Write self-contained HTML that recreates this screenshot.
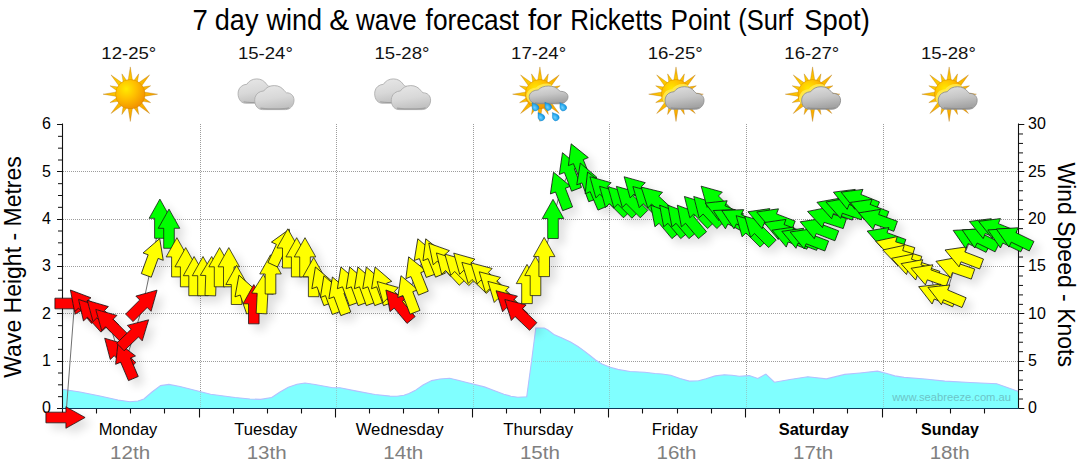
<!DOCTYPE html>
<html><head><meta charset="utf-8"><title>7 day wind &amp; wave forecast</title>
<style>
html,body{margin:0;padding:0;background:#fff;}
body{width:1080px;height:475px;overflow:hidden;font-family:"Liberation Sans",sans-serif;}
svg{display:block}
svg text{font-family:"Liberation Sans",sans-serif;}
.grid{stroke:#9c9c9c;stroke-width:1;stroke-dasharray:1 1;shape-rendering:crispEdges}
.ax{stroke:#111;}
.tick{font-size:16px;fill:#000}
.day{font-size:16px;fill:#000}
.date{font-size:18px;fill:#808080}
.temp{font-size:16.5px;fill:#111}
.title{font-size:29px;fill:#000}
.axt{font-size:23px;fill:#000}
.wm{font-size:11.2px;fill:#5a8a90;opacity:.5}
</style></head><body>
<svg width="1080" height="475" viewBox="0 0 1080 475">
<defs>
<path id="ar" d="M0,-19.6 L10.75,-0.4 L5.3,-0.4 L5.3,19.6 L-5.3,19.6 L-5.3,-0.4 L-10.75,-0.4 Z" stroke="#141414" stroke-width="0.75" stroke-linejoin="miter"/>
<filter id="sh" x="-5%" y="-20%" width="110%" height="140%"><feGaussianBlur in="SourceAlpha" stdDeviation="4.8"/><feOffset dx="6" dy="6" result="b"/><feComponentTransfer><feFuncA type="linear" slope="0.13"/></feComponentTransfer><feMerge><feMergeNode/><feMergeNode in="SourceGraphic"/></feMerge></filter>

<radialGradient id="sung" cx="0.36" cy="0.32" r="0.75"><stop offset="0" stop-color="#ffea00"/><stop offset="0.45" stop-color="#ffc000"/><stop offset="1" stop-color="#f08c00"/></radialGradient>
<radialGradient id="rayg" gradientUnits="objectBoundingBox" cx="0.4" cy="0.4" r="0.65"><stop offset="0" stop-color="#ffd800"/><stop offset="0.6" stop-color="#fbb400"/><stop offset="1" stop-color="#f39a00"/></radialGradient>
<linearGradient id="cldg" x1="0" y1="0" x2="0.25" y2="1"><stop offset="0" stop-color="#e8e8e8"/><stop offset="0.6" stop-color="#d8d8d8"/><stop offset="1" stop-color="#c2c2c2"/></linearGradient>
<linearGradient id="cldd" x1="0" y1="0" x2="0.25" y2="1"><stop offset="0" stop-color="#e0e0e0"/><stop offset="0.55" stop-color="#c6c6c6"/><stop offset="1" stop-color="#a4a4a4"/></linearGradient>
<radialGradient id="dropg" cx="0.4" cy="0.6" r="0.7"><stop offset="0" stop-color="#6fd0ff"/><stop offset="0.6" stop-color="#1ea4ea"/><stop offset="1" stop-color="#0a7fd0"/></radialGradient>
</defs>
<polygon points="63.0,408.0 63.0,389.2 62,389.2 80,392 100,396 118,400 130,401.7 138,401 143.9,398.9 152,392 160.6,385.6 168.9,384.4 180,386.5 210.6,394.2 235,397.5 250,399 260.6,399.4 271.7,397.5 280,392 288.3,387.2 297,384.3 305,383 315,384.5 332.8,387.8 340,387.8 356.7,391.1 375,394.5 390,396.1 397,396.3 403.9,395.3 409,393.5 415,390.6 423,385 431.7,380.6 440,379 449.7,378.3 458,380.3 467.8,382.8 484.4,386.9 494,390.5 503.9,394.2 511,396.2 517.8,397.2 526.7,396.7 531.7,360 535.8,328 544.2,328 548,330 553.9,334.4 562,338 570.6,342 578,346.5 584.4,351.1 590,355.5 595.6,360 602,364 609.4,367 617.8,369.4 630,371.5 644.8,372.2 655,373.5 662,374 670.7,375.2 680,378.5 689.3,381.1 698.5,380.7 706,378.8 715.2,375.9 724.4,374.8 732,375.2 739.3,376.3 749.3,375.6 757.8,378.5 765.9,374.1 774.4,382.2 790,379.5 807.8,376.7 826.3,378.9 844.8,374.4 860,373 877.4,371.1 886,373.3 894.8,375.9 904.1,377.4 925,379 944.8,381.1 970,382.5 996.7,383.7 1018,391.3 1018.0,408.0" fill="#80ffff"/>
<line x1="63.0" y1="361.5" x2="1018.0" y2="361.5" class="grid"/>
<line x1="63.0" y1="313.5" x2="1018.0" y2="313.5" class="grid"/>
<line x1="63.0" y1="266.5" x2="1018.0" y2="266.5" class="grid"/>
<line x1="63.0" y1="219.5" x2="1018.0" y2="219.5" class="grid"/>
<line x1="63.0" y1="171.5" x2="1018.0" y2="171.5" class="grid"/>
<line x1="200.5" y1="124.0" x2="200.5" y2="408.0" class="grid"/>
<line x1="336.5" y1="124.0" x2="336.5" y2="408.0" class="grid"/>
<line x1="473.5" y1="124.0" x2="473.5" y2="408.0" class="grid"/>
<line x1="609.5" y1="124.0" x2="609.5" y2="408.0" class="grid"/>
<line x1="746.5" y1="124.0" x2="746.5" y2="408.0" class="grid"/>
<line x1="883.5" y1="124.0" x2="883.5" y2="408.0" class="grid"/>
<polygon points="63.0,408.0 63.0,389.2 62,389.2 80,392 100,396 118,400 130,401.7 138,401 143.9,398.9 152,392 160.6,385.6 168.9,384.4 180,386.5 210.6,394.2 235,397.5 250,399 260.6,399.4 271.7,397.5 280,392 288.3,387.2 297,384.3 305,383 315,384.5 332.8,387.8 340,387.8 356.7,391.1 375,394.5 390,396.1 397,396.3 403.9,395.3 409,393.5 415,390.6 423,385 431.7,380.6 440,379 449.7,378.3 458,380.3 467.8,382.8 484.4,386.9 494,390.5 503.9,394.2 511,396.2 517.8,397.2 526.7,396.7 531.7,360 535.8,328 544.2,328 548,330 553.9,334.4 562,338 570.6,342 578,346.5 584.4,351.1 590,355.5 595.6,360 602,364 609.4,367 617.8,369.4 630,371.5 644.8,372.2 655,373.5 662,374 670.7,375.2 680,378.5 689.3,381.1 698.5,380.7 706,378.8 715.2,375.9 724.4,374.8 732,375.2 739.3,376.3 749.3,375.6 757.8,378.5 765.9,374.1 774.4,382.2 790,379.5 807.8,376.7 826.3,378.9 844.8,374.4 860,373 877.4,371.1 886,373.3 894.8,375.9 904.1,377.4 925,379 944.8,381.1 970,382.5 996.7,383.7 1018,391.3 1018.0,408.0" fill="#80ffff" opacity="0.5"/>
<polyline points="62,389.2 80,392 100,396 118,400 130,401.7 138,401 143.9,398.9 152,392 160.6,385.6 168.9,384.4 180,386.5 210.6,394.2 235,397.5 250,399 260.6,399.4 271.7,397.5 280,392 288.3,387.2 297,384.3 305,383 315,384.5 332.8,387.8 340,387.8 356.7,391.1 375,394.5 390,396.1 397,396.3 403.9,395.3 409,393.5 415,390.6 423,385 431.7,380.6 440,379 449.7,378.3 458,380.3 467.8,382.8 484.4,386.9 494,390.5 503.9,394.2 511,396.2 517.8,397.2 526.7,396.7 531.7,360 535.8,328 544.2,328 548,330 553.9,334.4 562,338 570.6,342 578,346.5 584.4,351.1 590,355.5 595.6,360 602,364 609.4,367 617.8,369.4 630,371.5 644.8,372.2 655,373.5 662,374 670.7,375.2 680,378.5 689.3,381.1 698.5,380.7 706,378.8 715.2,375.9 724.4,374.8 732,375.2 739.3,376.3 749.3,375.6 757.8,378.5 765.9,374.1 774.4,382.2 790,379.5 807.8,376.7 826.3,378.9 844.8,374.4 860,373 877.4,371.1 886,373.3 894.8,375.9 904.1,377.4 925,379 944.8,381.1 970,382.5 996.7,383.7 1018,391.3" fill="none" stroke="#b4c0ff" stroke-width="1.1"/>
<line x1="62.5" y1="123.5" x2="62.5" y2="413.0" class="ax" stroke-width="1.1"/>
<line x1="1018.5" y1="123.5" x2="1018.5" y2="409.0" class="ax" stroke-width="1.1"/>
<line x1="62.0" y1="408.5" x2="1019.0" y2="408.5" stroke="#0e3a5c" stroke-width="1.1"/>
<line x1="57.0" y1="408.50" x2="62.0" y2="408.50" class="ax" stroke-width="1"/>
<line x1="58.0" y1="396.67" x2="62.0" y2="396.67" class="ax" stroke-width="1"/>
<line x1="58.0" y1="384.83" x2="62.0" y2="384.83" class="ax" stroke-width="1"/>
<line x1="58.0" y1="373.00" x2="62.0" y2="373.00" class="ax" stroke-width="1"/>
<line x1="57.0" y1="361.50" x2="62.0" y2="361.50" class="ax" stroke-width="1"/>
<line x1="58.0" y1="349.33" x2="62.0" y2="349.33" class="ax" stroke-width="1"/>
<line x1="58.0" y1="337.50" x2="62.0" y2="337.50" class="ax" stroke-width="1"/>
<line x1="58.0" y1="325.67" x2="62.0" y2="325.67" class="ax" stroke-width="1"/>
<line x1="57.0" y1="313.50" x2="62.0" y2="313.50" class="ax" stroke-width="1"/>
<line x1="58.0" y1="302.00" x2="62.0" y2="302.00" class="ax" stroke-width="1"/>
<line x1="58.0" y1="290.17" x2="62.0" y2="290.17" class="ax" stroke-width="1"/>
<line x1="58.0" y1="278.33" x2="62.0" y2="278.33" class="ax" stroke-width="1"/>
<line x1="57.0" y1="266.50" x2="62.0" y2="266.50" class="ax" stroke-width="1"/>
<line x1="58.0" y1="254.67" x2="62.0" y2="254.67" class="ax" stroke-width="1"/>
<line x1="58.0" y1="242.83" x2="62.0" y2="242.83" class="ax" stroke-width="1"/>
<line x1="58.0" y1="231.00" x2="62.0" y2="231.00" class="ax" stroke-width="1"/>
<line x1="57.0" y1="219.50" x2="62.0" y2="219.50" class="ax" stroke-width="1"/>
<line x1="58.0" y1="207.33" x2="62.0" y2="207.33" class="ax" stroke-width="1"/>
<line x1="58.0" y1="195.50" x2="62.0" y2="195.50" class="ax" stroke-width="1"/>
<line x1="58.0" y1="183.67" x2="62.0" y2="183.67" class="ax" stroke-width="1"/>
<line x1="57.0" y1="171.50" x2="62.0" y2="171.50" class="ax" stroke-width="1"/>
<line x1="58.0" y1="160.00" x2="62.0" y2="160.00" class="ax" stroke-width="1"/>
<line x1="58.0" y1="148.17" x2="62.0" y2="148.17" class="ax" stroke-width="1"/>
<line x1="58.0" y1="136.33" x2="62.0" y2="136.33" class="ax" stroke-width="1"/>
<line x1="57.0" y1="124.50" x2="62.0" y2="124.50" class="ax" stroke-width="1"/>
<line x1="1019.0" y1="408.50" x2="1024.3" y2="408.50" class="ax" stroke-width="1"/>
<line x1="1019.0" y1="399.03" x2="1023.0" y2="399.03" class="ax" stroke-width="1"/>
<line x1="1019.0" y1="389.57" x2="1023.0" y2="389.57" class="ax" stroke-width="1"/>
<line x1="1019.0" y1="380.10" x2="1023.0" y2="380.10" class="ax" stroke-width="1"/>
<line x1="1019.0" y1="370.63" x2="1023.0" y2="370.63" class="ax" stroke-width="1"/>
<line x1="1019.0" y1="361.50" x2="1024.3" y2="361.50" class="ax" stroke-width="1"/>
<line x1="1019.0" y1="351.70" x2="1023.0" y2="351.70" class="ax" stroke-width="1"/>
<line x1="1019.0" y1="342.23" x2="1023.0" y2="342.23" class="ax" stroke-width="1"/>
<line x1="1019.0" y1="332.77" x2="1023.0" y2="332.77" class="ax" stroke-width="1"/>
<line x1="1019.0" y1="323.30" x2="1023.0" y2="323.30" class="ax" stroke-width="1"/>
<line x1="1019.0" y1="313.50" x2="1024.3" y2="313.50" class="ax" stroke-width="1"/>
<line x1="1019.0" y1="304.37" x2="1023.0" y2="304.37" class="ax" stroke-width="1"/>
<line x1="1019.0" y1="294.90" x2="1023.0" y2="294.90" class="ax" stroke-width="1"/>
<line x1="1019.0" y1="285.43" x2="1023.0" y2="285.43" class="ax" stroke-width="1"/>
<line x1="1019.0" y1="275.97" x2="1023.0" y2="275.97" class="ax" stroke-width="1"/>
<line x1="1019.0" y1="266.50" x2="1024.3" y2="266.50" class="ax" stroke-width="1"/>
<line x1="1019.0" y1="257.03" x2="1023.0" y2="257.03" class="ax" stroke-width="1"/>
<line x1="1019.0" y1="247.57" x2="1023.0" y2="247.57" class="ax" stroke-width="1"/>
<line x1="1019.0" y1="238.10" x2="1023.0" y2="238.10" class="ax" stroke-width="1"/>
<line x1="1019.0" y1="228.63" x2="1023.0" y2="228.63" class="ax" stroke-width="1"/>
<line x1="1019.0" y1="219.50" x2="1024.3" y2="219.50" class="ax" stroke-width="1"/>
<line x1="1019.0" y1="209.70" x2="1023.0" y2="209.70" class="ax" stroke-width="1"/>
<line x1="1019.0" y1="200.23" x2="1023.0" y2="200.23" class="ax" stroke-width="1"/>
<line x1="1019.0" y1="190.77" x2="1023.0" y2="190.77" class="ax" stroke-width="1"/>
<line x1="1019.0" y1="181.30" x2="1023.0" y2="181.30" class="ax" stroke-width="1"/>
<line x1="1019.0" y1="171.50" x2="1024.3" y2="171.50" class="ax" stroke-width="1"/>
<line x1="1019.0" y1="162.37" x2="1023.0" y2="162.37" class="ax" stroke-width="1"/>
<line x1="1019.0" y1="152.90" x2="1023.0" y2="152.90" class="ax" stroke-width="1"/>
<line x1="1019.0" y1="143.43" x2="1023.0" y2="143.43" class="ax" stroke-width="1"/>
<line x1="1019.0" y1="133.97" x2="1023.0" y2="133.97" class="ax" stroke-width="1"/>
<line x1="1019.0" y1="124.50" x2="1024.3" y2="124.50" class="ax" stroke-width="1"/>
<text x="51.0" y="413.2" text-anchor="end" class="tick">0</text>
<text x="1028.0" y="413.4" text-anchor="start" class="tick">0</text>
<text x="51.0" y="365.9" text-anchor="end" class="tick">1</text>
<text x="1028.0" y="366.1" text-anchor="start" class="tick">5</text>
<text x="51.0" y="318.5" text-anchor="end" class="tick">2</text>
<text x="1028.0" y="318.7" text-anchor="start" class="tick">10</text>
<text x="51.0" y="271.2" text-anchor="end" class="tick">3</text>
<text x="1028.0" y="271.4" text-anchor="start" class="tick">15</text>
<text x="51.0" y="223.9" text-anchor="end" class="tick">4</text>
<text x="1028.0" y="224.1" text-anchor="start" class="tick">20</text>
<text x="51.0" y="176.5" text-anchor="end" class="tick">5</text>
<text x="1028.0" y="176.7" text-anchor="start" class="tick">25</text>
<text x="51.0" y="129.2" text-anchor="end" class="tick">6</text>
<text x="1028.0" y="129.4" text-anchor="start" class="tick">30</text>
<line x1="96.5" y1="409.0" x2="96.5" y2="413.5" class="ax" stroke-width="1.1"/>
<line x1="130.5" y1="409.0" x2="130.5" y2="413.5" class="ax" stroke-width="1.1"/>
<line x1="164.5" y1="409.0" x2="164.5" y2="413.5" class="ax" stroke-width="1.1"/>
<line x1="199.5" y1="409.0" x2="199.5" y2="417.5" class="ax" stroke-width="1.1"/>
<line x1="233.5" y1="409.0" x2="233.5" y2="413.5" class="ax" stroke-width="1.1"/>
<line x1="267.5" y1="409.0" x2="267.5" y2="413.5" class="ax" stroke-width="1.1"/>
<line x1="301.5" y1="409.0" x2="301.5" y2="413.5" class="ax" stroke-width="1.1"/>
<line x1="335.5" y1="409.0" x2="335.5" y2="417.5" class="ax" stroke-width="1.1"/>
<line x1="369.5" y1="409.0" x2="369.5" y2="413.5" class="ax" stroke-width="1.1"/>
<line x1="403.5" y1="409.0" x2="403.5" y2="413.5" class="ax" stroke-width="1.1"/>
<line x1="438.5" y1="409.0" x2="438.5" y2="413.5" class="ax" stroke-width="1.1"/>
<line x1="472.5" y1="409.0" x2="472.5" y2="417.5" class="ax" stroke-width="1.1"/>
<line x1="506.5" y1="409.0" x2="506.5" y2="413.5" class="ax" stroke-width="1.1"/>
<line x1="540.5" y1="409.0" x2="540.5" y2="413.5" class="ax" stroke-width="1.1"/>
<line x1="574.5" y1="409.0" x2="574.5" y2="413.5" class="ax" stroke-width="1.1"/>
<line x1="608.5" y1="409.0" x2="608.5" y2="417.5" class="ax" stroke-width="1.1"/>
<line x1="642.5" y1="409.0" x2="642.5" y2="413.5" class="ax" stroke-width="1.1"/>
<line x1="677.5" y1="409.0" x2="677.5" y2="413.5" class="ax" stroke-width="1.1"/>
<line x1="711.5" y1="409.0" x2="711.5" y2="413.5" class="ax" stroke-width="1.1"/>
<line x1="745.5" y1="409.0" x2="745.5" y2="417.5" class="ax" stroke-width="1.1"/>
<line x1="779.5" y1="409.0" x2="779.5" y2="413.5" class="ax" stroke-width="1.1"/>
<line x1="813.5" y1="409.0" x2="813.5" y2="413.5" class="ax" stroke-width="1.1"/>
<line x1="847.5" y1="409.0" x2="847.5" y2="413.5" class="ax" stroke-width="1.1"/>
<line x1="882.5" y1="409.0" x2="882.5" y2="417.5" class="ax" stroke-width="1.1"/>
<line x1="916.5" y1="409.0" x2="916.5" y2="413.5" class="ax" stroke-width="1.1"/>
<line x1="950.5" y1="409.0" x2="950.5" y2="413.5" class="ax" stroke-width="1.1"/>
<line x1="984.5" y1="409.0" x2="984.5" y2="413.5" class="ax" stroke-width="1.1"/>
<text x="128.0" y="435" text-anchor="middle" class="day" textLength="58.6" lengthAdjust="spacingAndGlyphs">Monday</text>
<text x="130.1" y="458.6" text-anchor="middle" class="date" textLength="40" lengthAdjust="spacingAndGlyphs">12th</text>
<text x="128.8" y="59" text-anchor="middle" class="temp" textLength="55" lengthAdjust="spacingAndGlyphs">12-25°</text>
<text x="265.8" y="435" text-anchor="middle" class="day" textLength="62.9" lengthAdjust="spacingAndGlyphs">Tuesday</text>
<text x="266.7" y="458.6" text-anchor="middle" class="date" textLength="40" lengthAdjust="spacingAndGlyphs">13th</text>
<text x="265.4" y="59" text-anchor="middle" class="temp" textLength="55" lengthAdjust="spacingAndGlyphs">15-24°</text>
<text x="399.6" y="435" text-anchor="middle" class="day" textLength="87.9" lengthAdjust="spacingAndGlyphs">Wednesday</text>
<text x="403.3" y="458.6" text-anchor="middle" class="date" textLength="40" lengthAdjust="spacingAndGlyphs">14th</text>
<text x="402.0" y="59" text-anchor="middle" class="temp" textLength="55" lengthAdjust="spacingAndGlyphs">15-28°</text>
<text x="538.3" y="435" text-anchor="middle" class="day" textLength="69.9" lengthAdjust="spacingAndGlyphs">Thursday</text>
<text x="539.9" y="458.6" text-anchor="middle" class="date" textLength="40" lengthAdjust="spacingAndGlyphs">15th</text>
<text x="538.6" y="59" text-anchor="middle" class="temp" textLength="55" lengthAdjust="spacingAndGlyphs">17-24°</text>
<text x="674.8" y="435" text-anchor="middle" class="day" textLength="46.2" lengthAdjust="spacingAndGlyphs">Friday</text>
<text x="676.5" y="458.6" text-anchor="middle" class="date" textLength="40" lengthAdjust="spacingAndGlyphs">16th</text>
<text x="675.2" y="59" text-anchor="middle" class="temp" textLength="55" lengthAdjust="spacingAndGlyphs">16-25°</text>
<text x="813.8" y="435" text-anchor="middle" class="day" font-weight="bold" textLength="70.2" lengthAdjust="spacingAndGlyphs">Saturday</text>
<text x="813.1" y="458.6" text-anchor="middle" class="date" textLength="40" lengthAdjust="spacingAndGlyphs">17th</text>
<text x="811.8" y="59" text-anchor="middle" class="temp" textLength="55" lengthAdjust="spacingAndGlyphs">16-27°</text>
<text x="950.0" y="435" text-anchor="middle" class="day" font-weight="bold" textLength="57.8" lengthAdjust="spacingAndGlyphs">Sunday</text>
<text x="949.7" y="458.6" text-anchor="middle" class="date" textLength="40" lengthAdjust="spacingAndGlyphs">18th</text>
<text x="948.4" y="59" text-anchor="middle" class="temp" textLength="55" lengthAdjust="spacingAndGlyphs">15-28°</text>
<g class="title"><text x="192.4" y="29.7" textLength="15.3" lengthAdjust="spacingAndGlyphs">7</text><text x="214.8" y="29.7" textLength="43.7" lengthAdjust="spacingAndGlyphs">day</text><text x="266.4" y="29.7" textLength="55.7" lengthAdjust="spacingAndGlyphs">wind</text><text x="329.3" y="29.7" textLength="19.9" lengthAdjust="spacingAndGlyphs">&amp;</text><text x="356.1" y="29.7" textLength="60.7" lengthAdjust="spacingAndGlyphs">wave</text><text x="425.6" y="29.7" textLength="93.6" lengthAdjust="spacingAndGlyphs">forecast</text><text x="527.9" y="29.7" textLength="34.1" lengthAdjust="spacingAndGlyphs">for</text><text x="570.3" y="29.7" textLength="92.3" lengthAdjust="spacingAndGlyphs">Ricketts</text><text x="670.6" y="29.7" textLength="59.6" lengthAdjust="spacingAndGlyphs">Point</text><text x="738.3" y="29.7" textLength="55.1" lengthAdjust="spacingAndGlyphs">(Surf</text><text x="804.3" y="29.7" textLength="65.5" lengthAdjust="spacingAndGlyphs">Spot)</text></g>
<text transform="translate(20.5,267) rotate(-90)" text-anchor="middle" class="axt">Wave Height - Metres</text>
<text transform="translate(1057.5,264.7) rotate(90)" text-anchor="middle" class="axt">Wind Speed - Knots</text>
<text x="1011" y="401" text-anchor="end" class="wm">www.seabreeze.com.au</text>
<g><path d="M128.11,80.37 L130.30,66.90 L132.49,80.37 Z M133.81,80.65 L138.72,73.87 L137.41,82.14 Z M138.53,82.87 L149.60,74.90 L141.63,85.97 Z M142.36,87.09 L150.63,85.78 L143.85,90.69 Z M144.13,92.01 L157.60,94.20 L144.13,96.39 Z M143.85,97.71 L150.63,102.62 L142.36,101.31 Z M141.63,102.43 L149.60,113.50 L138.53,105.53 Z M137.41,106.26 L138.72,114.53 L133.81,107.75 Z M132.49,108.03 L130.30,121.50 L128.11,108.03 Z M126.79,107.75 L121.88,114.53 L123.19,106.26 Z M122.07,105.53 L111.00,113.50 L118.97,102.43 Z M118.24,101.31 L109.97,102.62 L116.75,97.71 Z M116.47,96.39 L103.00,94.20 L116.47,92.01 Z M116.75,90.69 L109.97,85.78 L118.24,87.09 Z M118.97,85.97 L111.00,74.90 L122.07,82.87 Z M123.19,82.14 L121.88,73.87 L126.79,80.65 Z" fill="url(#rayg)" stroke="#a86a08" stroke-width="0.6" stroke-opacity="0.5"/><circle cx="130.3" cy="94.2" r="14.7" fill="url(#sung)" stroke="#c87800" stroke-width="0.6" stroke-opacity="0.6"/></g>
<g transform="translate(237.90,78.90) scale(0.9450,1.0125)"><path d="M8,24 L31.5,24 C36,24 40,20 40,14.5 C40,10 36.5,7 32.3,7.2 C31.4,6.4 30.8,5.8 30.3,5.2 C28,2 24.5,0 20,0 C15.5,0 11.5,2 9.5,5.3 C5,5.6 1.5,8 0.5,12 C-0.8,17.5 2,24 8,24 Z" fill="url(#cldg)" stroke="#adadad" stroke-width="0.9"/><path d="M6,22.6 C10,23.6 30,23.6 35,22.2" fill="none" stroke="#808080" stroke-opacity="0.5" stroke-width="1.2"/></g>
<g transform="translate(254.50,85.60) scale(0.9875,1.0000)"><path d="M8,24 L31.5,24 C36,24 40,20 40,14.5 C40,10 36.5,7 32.3,7.2 C31.4,6.4 30.8,5.8 30.3,5.2 C28,2 24.5,0 20,0 C15.5,0 11.5,2 9.5,5.3 C5,5.6 1.5,8 0.5,12 C-0.8,17.5 2,24 8,24 Z" fill="url(#cldg)" stroke="#adadad" stroke-width="0.9"/><path d="M6,22.6 C10,23.6 30,23.6 35,22.2" fill="none" stroke="#808080" stroke-opacity="0.5" stroke-width="1.2"/></g>
<g transform="translate(374.50,78.90) scale(0.9450,1.0125)"><path d="M8,24 L31.5,24 C36,24 40,20 40,14.5 C40,10 36.5,7 32.3,7.2 C31.4,6.4 30.8,5.8 30.3,5.2 C28,2 24.5,0 20,0 C15.5,0 11.5,2 9.5,5.3 C5,5.6 1.5,8 0.5,12 C-0.8,17.5 2,24 8,24 Z" fill="url(#cldg)" stroke="#adadad" stroke-width="0.9"/><path d="M6,22.6 C10,23.6 30,23.6 35,22.2" fill="none" stroke="#808080" stroke-opacity="0.5" stroke-width="1.2"/></g>
<g transform="translate(391.10,85.60) scale(0.9875,1.0000)"><path d="M8,24 L31.5,24 C36,24 40,20 40,14.5 C40,10 36.5,7 32.3,7.2 C31.4,6.4 30.8,5.8 30.3,5.2 C28,2 24.5,0 20,0 C15.5,0 11.5,2 9.5,5.3 C5,5.6 1.5,8 0.5,12 C-0.8,17.5 2,24 8,24 Z" fill="url(#cldg)" stroke="#adadad" stroke-width="0.9"/><path d="M6,22.6 C10,23.6 30,23.6 35,22.2" fill="none" stroke="#808080" stroke-opacity="0.5" stroke-width="1.2"/></g>
<g><path d="M537.71,80.37 L539.90,66.90 L542.09,80.37 Z M543.41,80.65 L548.32,73.87 L547.01,82.14 Z M548.13,82.87 L559.20,74.90 L551.23,85.97 Z M551.96,87.09 L560.23,85.78 L553.45,90.69 Z M553.73,92.01 L567.20,94.20 L553.73,96.39 Z M553.45,97.71 L560.23,102.62 L551.96,101.31 Z M551.23,102.43 L559.20,113.50 L548.13,105.53 Z M547.01,106.26 L548.32,114.53 L543.41,107.75 Z M542.09,108.03 L539.90,121.50 L537.71,108.03 Z M536.39,107.75 L531.48,114.53 L532.79,106.26 Z M531.67,105.53 L520.60,113.50 L528.57,102.43 Z M527.84,101.31 L519.57,102.62 L526.35,97.71 Z M526.07,96.39 L512.60,94.20 L526.07,92.01 Z M526.35,90.69 L519.57,85.78 L527.84,87.09 Z M528.57,85.97 L520.60,74.90 L531.67,82.87 Z M532.79,82.14 L531.48,73.87 L536.39,80.65 Z" fill="url(#rayg)" stroke="#a86a08" stroke-width="0.6" stroke-opacity="0.5"/><circle cx="539.9" cy="94.2" r="14.7" fill="url(#sung)" stroke="#c87800" stroke-width="0.6" stroke-opacity="0.6"/></g>
<clipPath id="sc1"><circle cx="539.9" cy="94.2" r="14.7"/></clipPath><g clip-path="url(#sc1)"><g transform="translate(527.80,84.80) scale(0.9750,0.7417)"><path d="M8,24 L31.5,24 C36,24 40,20 40,14.5 C40,10 36.5,7 32.3,7.2 C31.4,6.4 30.8,5.8 30.3,5.2 C28,2 24.5,0 20,0 C15.5,0 11.5,2 9.5,5.3 C5,5.6 1.5,8 0.5,12 C-0.8,17.5 2,24 8,24 Z" fill="#ffe94a" stroke="#ffe94a" stroke-width="3.2" stroke-opacity="0.9"/></g></g>
<g transform="translate(529.00,86.00) scale(0.9750,0.7417)"><path d="M8,24 L31.5,24 C36,24 40,20 40,14.5 C40,10 36.5,7 32.3,7.2 C31.4,6.4 30.8,5.8 30.3,5.2 C28,2 24.5,0 20,0 C15.5,0 11.5,2 9.5,5.3 C5,5.6 1.5,8 0.5,12 C-0.8,17.5 2,24 8,24 Z" fill="url(#cldd)" stroke="#8c8c8c" stroke-width="0.9"/><path d="M6,22.6 C10,23.6 30,23.6 35,22.2" fill="none" stroke="#808080" stroke-opacity="0.5" stroke-width="1.2"/></g>
<g transform="translate(534.7,106.4) rotate(-35)"><path d="M0,-4.6 C1.0,-2.4 3.3,-0.8 3.3,1.4 A3.3,3.3 0 1 1 -3.3,1.4 C-3.3,-0.8 -1.0,-2.4 0,-4.6 Z" fill="url(#dropg)" stroke="#1480c8" stroke-width="0.4"/></g>
<g transform="translate(547.5,106.0) rotate(-35)"><path d="M0,-4.6 C1.0,-2.4 3.3,-0.8 3.3,1.4 A3.3,3.3 0 1 1 -3.3,1.4 C-3.3,-0.8 -1.0,-2.4 0,-4.6 Z" fill="url(#dropg)" stroke="#1480c8" stroke-width="0.4"/></g>
<g transform="translate(562.5,106.4) rotate(-35)"><path d="M0,-4.6 C1.0,-2.4 3.3,-0.8 3.3,1.4 A3.3,3.3 0 1 1 -3.3,1.4 C-3.3,-0.8 -1.0,-2.4 0,-4.6 Z" fill="url(#dropg)" stroke="#1480c8" stroke-width="0.4"/></g>
<g transform="translate(540.6,116.3) rotate(-35)"><path d="M0,-4.6 C1.0,-2.4 3.3,-0.8 3.3,1.4 A3.3,3.3 0 1 1 -3.3,1.4 C-3.3,-0.8 -1.0,-2.4 0,-4.6 Z" fill="url(#dropg)" stroke="#1480c8" stroke-width="0.4"/></g>
<g transform="translate(555.0,116.3) rotate(-35)"><path d="M0,-4.6 C1.0,-2.4 3.3,-0.8 3.3,1.4 A3.3,3.3 0 1 1 -3.3,1.4 C-3.3,-0.8 -1.0,-2.4 0,-4.6 Z" fill="url(#dropg)" stroke="#1480c8" stroke-width="0.4"/></g>
<g><path d="M673.81,80.37 L676.00,66.90 L678.19,80.37 Z M679.51,80.65 L684.42,73.87 L683.11,82.14 Z M684.23,82.87 L695.30,74.90 L687.33,85.97 Z M688.06,87.09 L696.33,85.78 L689.55,90.69 Z M689.83,92.01 L703.30,94.20 L689.83,96.39 Z M689.55,97.71 L696.33,102.62 L688.06,101.31 Z M687.33,102.43 L695.30,113.50 L684.23,105.53 Z M683.11,106.26 L684.42,114.53 L679.51,107.75 Z M678.19,108.03 L676.00,121.50 L673.81,108.03 Z M672.49,107.75 L667.58,114.53 L668.89,106.26 Z M667.77,105.53 L656.70,113.50 L664.67,102.43 Z M663.94,101.31 L655.67,102.62 L662.45,97.71 Z M662.17,96.39 L648.70,94.20 L662.17,92.01 Z M662.45,90.69 L655.67,85.78 L663.94,87.09 Z M664.67,85.97 L656.70,74.90 L667.77,82.87 Z M668.89,82.14 L667.58,73.87 L672.49,80.65 Z" fill="url(#rayg)" stroke="#a86a08" stroke-width="0.6" stroke-opacity="0.5"/><circle cx="676.0" cy="94.2" r="14.7" fill="url(#sung)" stroke="#c87800" stroke-width="0.6" stroke-opacity="0.6"/></g>
<clipPath id="sc2"><circle cx="676.0" cy="94.2" r="14.7"/></clipPath><g clip-path="url(#sc2)"><g transform="translate(663.70,85.50) scale(0.9775,0.9375)"><path d="M8,24 L31.5,24 C36,24 40,20 40,14.5 C40,10 36.5,7 32.3,7.2 C31.4,6.4 30.8,5.8 30.3,5.2 C28,2 24.5,0 20,0 C15.5,0 11.5,2 9.5,5.3 C5,5.6 1.5,8 0.5,12 C-0.8,17.5 2,24 8,24 Z" fill="#ffe94a" stroke="#ffe94a" stroke-width="3.2" stroke-opacity="0.9"/></g></g>
<g transform="translate(664.90,86.70) scale(0.9775,0.9375)"><path d="M8,24 L31.5,24 C36,24 40,20 40,14.5 C40,10 36.5,7 32.3,7.2 C31.4,6.4 30.8,5.8 30.3,5.2 C28,2 24.5,0 20,0 C15.5,0 11.5,2 9.5,5.3 C5,5.6 1.5,8 0.5,12 C-0.8,17.5 2,24 8,24 Z" fill="url(#cldd)" stroke="#8c8c8c" stroke-width="0.9"/><path d="M6,22.6 C10,23.6 30,23.6 35,22.2" fill="none" stroke="#808080" stroke-opacity="0.5" stroke-width="1.2"/></g>
<g><path d="M810.38,80.37 L812.57,66.90 L814.76,80.37 Z M816.08,80.65 L820.99,73.87 L819.68,82.14 Z M820.80,82.87 L831.87,74.90 L823.90,85.97 Z M824.63,87.09 L832.90,85.78 L826.12,90.69 Z M826.40,92.01 L839.87,94.20 L826.40,96.39 Z M826.12,97.71 L832.90,102.62 L824.63,101.31 Z M823.90,102.43 L831.87,113.50 L820.80,105.53 Z M819.68,106.26 L820.99,114.53 L816.08,107.75 Z M814.76,108.03 L812.57,121.50 L810.38,108.03 Z M809.06,107.75 L804.15,114.53 L805.46,106.26 Z M804.34,105.53 L793.27,113.50 L801.24,102.43 Z M800.51,101.31 L792.24,102.62 L799.02,97.71 Z M798.74,96.39 L785.27,94.20 L798.74,92.01 Z M799.02,90.69 L792.24,85.78 L800.51,87.09 Z M801.24,85.97 L793.27,74.90 L804.34,82.87 Z M805.46,82.14 L804.15,73.87 L809.06,80.65 Z" fill="url(#rayg)" stroke="#a86a08" stroke-width="0.6" stroke-opacity="0.5"/><circle cx="812.5699999999999" cy="94.2" r="14.7" fill="url(#sung)" stroke="#c87800" stroke-width="0.6" stroke-opacity="0.6"/></g>
<clipPath id="sc3"><circle cx="812.5699999999999" cy="94.2" r="14.7"/></clipPath><g clip-path="url(#sc3)"><g transform="translate(800.27,85.50) scale(0.9775,0.9375)"><path d="M8,24 L31.5,24 C36,24 40,20 40,14.5 C40,10 36.5,7 32.3,7.2 C31.4,6.4 30.8,5.8 30.3,5.2 C28,2 24.5,0 20,0 C15.5,0 11.5,2 9.5,5.3 C5,5.6 1.5,8 0.5,12 C-0.8,17.5 2,24 8,24 Z" fill="#ffe94a" stroke="#ffe94a" stroke-width="3.2" stroke-opacity="0.9"/></g></g>
<g transform="translate(801.47,86.70) scale(0.9775,0.9375)"><path d="M8,24 L31.5,24 C36,24 40,20 40,14.5 C40,10 36.5,7 32.3,7.2 C31.4,6.4 30.8,5.8 30.3,5.2 C28,2 24.5,0 20,0 C15.5,0 11.5,2 9.5,5.3 C5,5.6 1.5,8 0.5,12 C-0.8,17.5 2,24 8,24 Z" fill="url(#cldd)" stroke="#8c8c8c" stroke-width="0.9"/><path d="M6,22.6 C10,23.6 30,23.6 35,22.2" fill="none" stroke="#808080" stroke-opacity="0.5" stroke-width="1.2"/></g>
<g><path d="M946.95,80.37 L949.14,66.90 L951.33,80.37 Z M952.65,80.65 L957.56,73.87 L956.25,82.14 Z M957.37,82.87 L968.44,74.90 L960.47,85.97 Z M961.20,87.09 L969.47,85.78 L962.69,90.69 Z M962.97,92.01 L976.44,94.20 L962.97,96.39 Z M962.69,97.71 L969.47,102.62 L961.20,101.31 Z M960.47,102.43 L968.44,113.50 L957.37,105.53 Z M956.25,106.26 L957.56,114.53 L952.65,107.75 Z M951.33,108.03 L949.14,121.50 L946.95,108.03 Z M945.63,107.75 L940.72,114.53 L942.03,106.26 Z M940.91,105.53 L929.84,113.50 L937.81,102.43 Z M937.08,101.31 L928.81,102.62 L935.59,97.71 Z M935.31,96.39 L921.84,94.20 L935.31,92.01 Z M935.59,90.69 L928.81,85.78 L937.08,87.09 Z M937.81,85.97 L929.84,74.90 L940.91,82.87 Z M942.03,82.14 L940.72,73.87 L945.63,80.65 Z" fill="url(#rayg)" stroke="#a86a08" stroke-width="0.6" stroke-opacity="0.5"/><circle cx="949.14" cy="94.2" r="14.7" fill="url(#sung)" stroke="#c87800" stroke-width="0.6" stroke-opacity="0.6"/></g>
<clipPath id="sc4"><circle cx="949.14" cy="94.2" r="14.7"/></clipPath><g clip-path="url(#sc4)"><g transform="translate(936.84,85.50) scale(0.9775,0.9375)"><path d="M8,24 L31.5,24 C36,24 40,20 40,14.5 C40,10 36.5,7 32.3,7.2 C31.4,6.4 30.8,5.8 30.3,5.2 C28,2 24.5,0 20,0 C15.5,0 11.5,2 9.5,5.3 C5,5.6 1.5,8 0.5,12 C-0.8,17.5 2,24 8,24 Z" fill="#ffe94a" stroke="#ffe94a" stroke-width="3.2" stroke-opacity="0.9"/></g></g>
<g transform="translate(938.04,86.70) scale(0.9775,0.9375)"><path d="M8,24 L31.5,24 C36,24 40,20 40,14.5 C40,10 36.5,7 32.3,7.2 C31.4,6.4 30.8,5.8 30.3,5.2 C28,2 24.5,0 20,0 C15.5,0 11.5,2 9.5,5.3 C5,5.6 1.5,8 0.5,12 C-0.8,17.5 2,24 8,24 Z" fill="url(#cldd)" stroke="#8c8c8c" stroke-width="0.9"/><path d="M6,22.6 C10,23.6 30,23.6 35,22.2" fill="none" stroke="#808080" stroke-opacity="0.5" stroke-width="1.2"/></g>
<polyline points="66.5,408.0 74.5,303.5 83.0,305.0 91.7,314.0 101.0,314.4 109.6,323.3 118.3,352.3 125.7,360.5 134.5,333.4 143.2,304.0 153.0,257.0 159.9,218.7 169.0,228.7 176.9,257.3 185.7,267.2 194.1,276.1 203.0,276.1 211.0,276.1 219.6,267.2 228.8,267.2 236.6,284.9 245.3,293.7 253.8,304.2 262.5,294.0 270.5,274.4 281.0,247.0 287.8,248.4 296.7,257.3 305.0,257.3 313.7,277.1 322.1,285.4 330.6,294.2 339.1,295.4 347.6,285.4 356.4,285.4 364.6,285.4 373.0,285.4 381.8,285.4 391.0,295.4 398.5,305.0 408.0,294.0 416.0,275.0 424.5,257.2 433.1,257.0 441.6,258.0 449.8,267.3 458.7,268.0 467.6,267.0 476.0,276.0 485.0,276.5 493.3,285.4 502.0,295.0 510.3,304.2 519.0,313.0 527.0,284.0 535.5,276.0 544.2,257.0 553.0,218.9 560.6,190.5 569.5,171.0 578.5,162.0 587.0,181.5 595.2,190.0 603.8,190.6 613.4,200.2 621.8,200.6 630.2,200.2 638.0,190.6 647.0,200.2 655.5,200.4 663.4,220.2 672.2,220.2 680.4,220.2 689.9,220.2 697.9,210.7 707.2,210.7 715.0,200.0 723.3,210.8 730.7,219.4 739.2,219.4 750.0,229.5 758.5,230.0 766.3,218.8 775.0,219.0 782.5,229.6 790.5,237.2 800.2,238.4 808.4,239.0 818.5,228.8 826.2,217.5 835.5,208.7 844.5,208.4 851.6,199.5 859.3,199.5 868.6,209.5 877.2,219.6 885.6,237.8 894.5,247.0 901.5,255.7 910.2,264.4 919.6,270.0 929.5,275.0 936.7,294.3 946.0,295.0 954.5,267.7 963.3,257.0 970.8,239.0 979.8,238.5 987.6,228.8 996.8,228.7 1005.5,238.5 1014.0,237.6" fill="none" stroke="#707070" stroke-width="1"/>
<g filter="url(#sh)">
<use href="#ar" transform="translate(65.5,417.5) rotate(90)" fill="#ff0000"/>
<use href="#ar" transform="translate(74.5,303.5) rotate(90)" fill="#ff0000"/>
<use href="#ar" transform="translate(83.0,305.0) rotate(-40)" fill="#ff0000"/>
<use href="#ar" transform="translate(91.7,314.0) rotate(-42)" fill="#ff0000"/>
<use href="#ar" transform="translate(101.0,314.4) rotate(-44.4)" fill="#ff0000"/>
<use href="#ar" transform="translate(109.6,323.3) rotate(-45)" fill="#ff0000"/>
<use href="#ar" transform="translate(118.3,352.3) rotate(-44)" fill="#ff0000"/>
<use href="#ar" transform="translate(125.7,360.5) rotate(-23)" fill="#ff0000"/>
<use href="#ar" transform="translate(134.5,333.4) rotate(46)" fill="#ff0000"/>
<use href="#ar" transform="translate(143.2,304.0) rotate(45)" fill="#ff0000"/>
<use href="#ar" transform="translate(153.0,257.0) rotate(20)" fill="#ffff00"/>
<use href="#ar" transform="translate(159.9,218.7) rotate(0)" fill="#00ff00"/>
<use href="#ar" transform="translate(169.0,228.7) rotate(0)" fill="#00ff00"/>
<use href="#ar" transform="translate(176.9,257.3) rotate(0)" fill="#ffff00"/>
<use href="#ar" transform="translate(185.7,267.2) rotate(0)" fill="#ffff00"/>
<use href="#ar" transform="translate(194.1,276.1) rotate(0)" fill="#ffff00"/>
<use href="#ar" transform="translate(203.0,276.1) rotate(0)" fill="#ffff00"/>
<use href="#ar" transform="translate(211.0,276.1) rotate(2)" fill="#ffff00"/>
<use href="#ar" transform="translate(219.6,267.2) rotate(0)" fill="#ffff00"/>
<use href="#ar" transform="translate(228.8,267.2) rotate(0)" fill="#ffff00"/>
<use href="#ar" transform="translate(236.6,284.9) rotate(0)" fill="#ffff00"/>
<use href="#ar" transform="translate(245.3,293.7) rotate(-19)" fill="#ffff00"/>
<use href="#ar" transform="translate(253.8,304.2) rotate(0)" fill="#ff0000"/>
<use href="#ar" transform="translate(262.5,294.0) rotate(3)" fill="#ffff00"/>
<use href="#ar" transform="translate(270.5,274.4) rotate(0)" fill="#ffff00"/>
<use href="#ar" transform="translate(281.0,247.0) rotate(25)" fill="#ffff00"/>
<use href="#ar" transform="translate(287.8,248.4) rotate(0)" fill="#ffff00"/>
<use href="#ar" transform="translate(296.7,257.3) rotate(0)" fill="#ffff00"/>
<use href="#ar" transform="translate(305.0,257.3) rotate(0)" fill="#ffff00"/>
<use href="#ar" transform="translate(313.7,277.1) rotate(0)" fill="#ffff00"/>
<use href="#ar" transform="translate(322.1,285.4) rotate(-20)" fill="#ffff00"/>
<use href="#ar" transform="translate(330.6,294.2) rotate(-20)" fill="#ffff00"/>
<use href="#ar" transform="translate(339.1,295.4) rotate(-20)" fill="#ffff00"/>
<use href="#ar" transform="translate(347.6,285.4) rotate(-20)" fill="#ffff00"/>
<use href="#ar" transform="translate(356.4,285.4) rotate(-20)" fill="#ffff00"/>
<use href="#ar" transform="translate(364.6,285.4) rotate(-20)" fill="#ffff00"/>
<use href="#ar" transform="translate(373.0,285.4) rotate(-20)" fill="#ffff00"/>
<use href="#ar" transform="translate(381.8,285.4) rotate(-20)" fill="#ffff00"/>
<use href="#ar" transform="translate(391.0,295.4) rotate(-45)" fill="#ffff00"/>
<use href="#ar" transform="translate(398.5,305.0) rotate(-40)" fill="#ff0000"/>
<use href="#ar" transform="translate(408.0,294.0) rotate(-21)" fill="#ffff00"/>
<use href="#ar" transform="translate(416.0,275.0) rotate(-22)" fill="#ffff00"/>
<use href="#ar" transform="translate(424.5,257.2) rotate(-20)" fill="#ffff00"/>
<use href="#ar" transform="translate(433.1,257.0) rotate(-22)" fill="#ffff00"/>
<use href="#ar" transform="translate(441.6,258.0) rotate(-41)" fill="#ffff00"/>
<use href="#ar" transform="translate(449.8,267.3) rotate(-43)" fill="#ffff00"/>
<use href="#ar" transform="translate(458.7,268.0) rotate(-45)" fill="#ffff00"/>
<use href="#ar" transform="translate(467.6,267.0) rotate(-45)" fill="#ffff00"/>
<use href="#ar" transform="translate(476.0,276.0) rotate(-46)" fill="#ffff00"/>
<use href="#ar" transform="translate(485.0,276.5) rotate(-46)" fill="#ffff00"/>
<use href="#ar" transform="translate(493.3,285.4) rotate(-46)" fill="#ffff00"/>
<use href="#ar" transform="translate(502.0,295.0) rotate(-46)" fill="#ffff00"/>
<use href="#ar" transform="translate(510.3,304.2) rotate(-46.5)" fill="#ff0000"/>
<use href="#ar" transform="translate(519.0,313.0) rotate(-46.5)" fill="#ff0000"/>
<use href="#ar" transform="translate(527.0,284.0) rotate(0)" fill="#ffff00"/>
<use href="#ar" transform="translate(535.5,276.0) rotate(0)" fill="#ffff00"/>
<use href="#ar" transform="translate(544.2,257.0) rotate(0)" fill="#ffff00"/>
<use href="#ar" transform="translate(553.0,218.9) rotate(0)" fill="#00ff00"/>
<use href="#ar" transform="translate(560.6,190.5) rotate(-21)" fill="#00ff00"/>
<use href="#ar" transform="translate(569.5,171.0) rotate(-21)" fill="#00ff00"/>
<use href="#ar" transform="translate(578.5,162.0) rotate(-22)" fill="#00ff00"/>
<use href="#ar" transform="translate(587.0,181.5) rotate(-20)" fill="#00ff00"/>
<use href="#ar" transform="translate(595.2,190.0) rotate(-23)" fill="#00ff00"/>
<use href="#ar" transform="translate(603.8,190.6) rotate(-45)" fill="#00ff00"/>
<use href="#ar" transform="translate(613.4,200.2) rotate(-45)" fill="#00ff00"/>
<use href="#ar" transform="translate(621.8,200.6) rotate(-45)" fill="#00ff00"/>
<use href="#ar" transform="translate(630.2,200.2) rotate(-45)" fill="#00ff00"/>
<use href="#ar" transform="translate(638.0,190.6) rotate(-45)" fill="#00ff00"/>
<use href="#ar" transform="translate(647.0,200.2) rotate(-46)" fill="#00ff00"/>
<use href="#ar" transform="translate(655.5,200.4) rotate(-47)" fill="#00ff00"/>
<use href="#ar" transform="translate(663.4,220.2) rotate(-40)" fill="#00ff00"/>
<use href="#ar" transform="translate(672.2,220.2) rotate(-40)" fill="#00ff00"/>
<use href="#ar" transform="translate(680.4,220.2) rotate(-40)" fill="#00ff00"/>
<use href="#ar" transform="translate(689.9,220.2) rotate(-40)" fill="#00ff00"/>
<use href="#ar" transform="translate(697.9,210.7) rotate(-43.5)" fill="#00ff00"/>
<use href="#ar" transform="translate(707.2,210.7) rotate(-43.5)" fill="#00ff00"/>
<use href="#ar" transform="translate(715.0,200.0) rotate(-45)" fill="#00ff00"/>
<use href="#ar" transform="translate(723.3,210.8) rotate(-67)" fill="#00ff00"/>
<use href="#ar" transform="translate(730.7,219.4) rotate(-63)" fill="#00ff00"/>
<use href="#ar" transform="translate(739.2,219.4) rotate(-63)" fill="#00ff00"/>
<use href="#ar" transform="translate(750.0,229.5) rotate(-45)" fill="#00ff00"/>
<use href="#ar" transform="translate(758.5,230.0) rotate(-45)" fill="#00ff00"/>
<use href="#ar" transform="translate(766.3,218.8) rotate(-69)" fill="#00ff00"/>
<use href="#ar" transform="translate(775.0,219.0) rotate(-69)" fill="#00ff00"/>
<use href="#ar" transform="translate(782.5,229.6) rotate(-69)" fill="#00ff00"/>
<use href="#ar" transform="translate(790.5,237.2) rotate(-69)" fill="#00ff00"/>
<use href="#ar" transform="translate(800.2,238.4) rotate(-69)" fill="#00ff00"/>
<use href="#ar" transform="translate(808.4,239.0) rotate(-69)" fill="#00ff00"/>
<use href="#ar" transform="translate(818.5,228.8) rotate(-69)" fill="#00ff00"/>
<use href="#ar" transform="translate(826.2,217.5) rotate(-72)" fill="#00ff00"/>
<use href="#ar" transform="translate(835.5,208.7) rotate(-71)" fill="#00ff00"/>
<use href="#ar" transform="translate(844.5,208.4) rotate(-71)" fill="#00ff00"/>
<use href="#ar" transform="translate(851.6,199.5) rotate(-68)" fill="#00ff00"/>
<use href="#ar" transform="translate(859.3,199.5) rotate(-68)" fill="#00ff00"/>
<use href="#ar" transform="translate(868.6,209.5) rotate(-69)" fill="#00ff00"/>
<use href="#ar" transform="translate(877.2,219.6) rotate(-70)" fill="#00ff00"/>
<use href="#ar" transform="translate(885.6,237.8) rotate(-70)" fill="#00ff00"/>
<use href="#ar" transform="translate(894.5,247.0) rotate(-73)" fill="#ffff00"/>
<use href="#ar" transform="translate(901.5,255.7) rotate(-73)" fill="#ffff00"/>
<use href="#ar" transform="translate(910.2,264.4) rotate(-72)" fill="#ffff00"/>
<use href="#ar" transform="translate(919.6,270.0) rotate(-71)" fill="#ffff00"/>
<use href="#ar" transform="translate(929.5,275.0) rotate(-70)" fill="#ffff00"/>
<use href="#ar" transform="translate(936.7,294.3) rotate(-67)" fill="#ffff00"/>
<use href="#ar" transform="translate(946.0,295.0) rotate(-67)" fill="#ffff00"/>
<use href="#ar" transform="translate(954.5,267.7) rotate(-71)" fill="#ffff00"/>
<use href="#ar" transform="translate(963.3,257.0) rotate(-69)" fill="#ffff00"/>
<use href="#ar" transform="translate(970.8,239.0) rotate(-64)" fill="#00ff00"/>
<use href="#ar" transform="translate(979.8,238.5) rotate(-64)" fill="#00ff00"/>
<use href="#ar" transform="translate(987.6,228.8) rotate(-68)" fill="#00ff00"/>
<use href="#ar" transform="translate(996.8,228.7) rotate(-68)" fill="#00ff00"/>
<use href="#ar" transform="translate(1005.5,238.5) rotate(-64)" fill="#00ff00"/>
<use href="#ar" transform="translate(1014.0,237.6) rotate(-64)" fill="#00ff00"/>
</g>
</svg>
</body></html>
